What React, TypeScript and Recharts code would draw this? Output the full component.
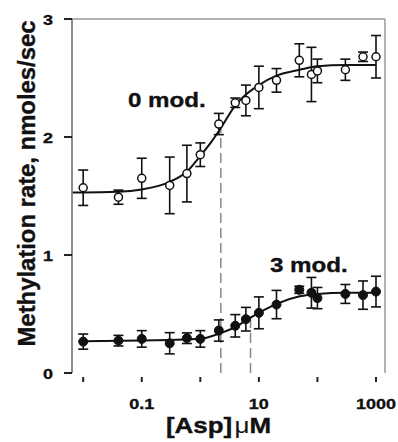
import React from "react";
import { ComposedChart, Line, Scatter, XAxis, YAxis, ErrorBar, ReferenceLine } from "recharts";

// Asp concentration (µM)
const conc = [0.01, 0.04, 0.1, 0.3, 0.59, 1.0, 2.07, 3.95, 6, 10, 20, 49, 79, 100, 300, 600, 1000];
// 0 mod. (open circles)
const rate0 = [1.57, 1.49, 1.65, 1.59, 1.69, 1.85, 2.11, 2.29, 2.31, 2.42, 2.48, 2.65, 2.53, 2.56, 2.57, 2.68, 2.68];
const err0 = [0.15, 0.06, 0.17, 0.24, 0.24, 0.1, 0.09, 0.04, 0.13, 0.18, 0.1, 0.14, 0.23, 0.1, 0.09, 0.04, 0.18];
// 3 mod. (filled circles)
const rate3 = [0.266, 0.274, 0.289, 0.252, 0.295, 0.289, 0.36, 0.4, 0.456, 0.51, 0.58, 0.705, 0.68, 0.635, 0.67, 0.66, 0.69];
const err3 = [0.064, 0.045, 0.07, 0.09, 0.045, 0.07, 0.09, 0.095, 0.1, 0.135, 0.12, 0.03, 0.13, 0.09, 0.08, 0.12, 0.13];

// fitted curves
const fitX0 = [0.0066, 0.01, 0.04, 0.1, 0.3, 0.6, 1, 1.5, 2.2, 4, 6, 10, 20, 50, 100, 300, 1000];
const fitY0 = [1.53, 1.53, 1.535, 1.555, 1.62, 1.71, 1.84, 1.95, 2.07, 2.27, 2.36, 2.44, 2.52, 2.57, 2.6, 2.61, 2.61];
const fitX3 = [0.01, 0.1, 0.3, 1, 2, 4, 7.2, 10, 20, 50, 100, 300, 1000];
const fitY3 = [0.27, 0.275, 0.28, 0.29, 0.33, 0.39, 0.47, 0.51, 0.586, 0.65, 0.67, 0.68, 0.68];

// half-saturation markers
const ec50X = [2.24, 7.2];
const ec50Y = [2.07, 0.47];

const xTicks = [0.01, 0.1, 1, 10, 100, 1000];
const xTickLabels = ["", "0.1", "", "10", "", "1000"];
const yTicks = [0, 1, 2, 3];

const X_MIN = 0.00644;
const X_MAX = 1425;

const pts0 = conc.map((x, i) => ({ x, y: rate0[i], err: err0[i] }));
const pts3 = conc.map((x, i) => ({ x, y: rate3[i], err: err3[i] }));
const fit0 = fitX0.map((x, i) => ({ x, y: fitY0[i] }));
const fit3 = fitX3.map((x, i) => ({ x, y: fitY3[i] }));
const dash0 = [{ x: ec50X[0], y: 0 }, { x: ec50X[0], y: ec50Y[0] }];
const dash3 = [{ x: ec50X[1], y: 0 }, { x: ec50X[1], y: ec50Y[1] }];

const FONT = "'Liberation Sans', Arial, Helvetica, sans-serif";
const heavy = { stroke: "#111", strokeWidth: 0.35 };

const XTick = (props: any) => {
  const { x, y, payload } = props;
  const idx = xTicks.indexOf(payload.value);
  const label = idx >= 0 ? xTickLabels[idx] : "";
  return (
    <g>
      <line x1={x} x2={x} y1={y + 4} y2={y + 9} stroke="#222" strokeWidth={2} />
      {label && (
        <text
          transform={`translate(${x},${y + 36}) scale(1.2,1)`}
          textAnchor="middle"
          fontSize={15}
          fontWeight="bold"
          fontFamily={FONT}
          fill="#111"
          {...heavy}
        >
          {label}
        </text>
      )}
    </g>
  );
};

const YTick = (props: any) => {
  const { x, y, payload } = props;
  return (
    <text
      transform={`translate(${x},${y + 5.5}) scale(1.2,1)`}
      textAnchor="end"
      fontSize={15}
      fontWeight="bold"
      fontFamily={FONT}
      fill="#111"
      {...heavy}
    >
      {payload.value}
    </text>
  );
};

const OpenDot = (props: any) => {
  const { cx, cy } = props;
  return <circle cx={cx} cy={cy} r={4} fill="#fff" stroke="#111" strokeWidth={1.5} />;
};
const FilledDot = (props: any) => {
  const { cx, cy } = props;
  return <circle cx={cx} cy={cy} r={4.5} fill="#111" stroke="#111" strokeWidth={1} />;
};

export default function App() {
  return (
    <div style={{ position: "absolute", left: 0, top: 0, width: 398, height: 442, background: "#fff" }}>
      <ComposedChart width={398} height={442} margin={{ top: 19, right: 13, left: 0, bottom: 0 }}>
        <XAxis
          type="number"
          dataKey="x"
          scale="log"
          domain={[X_MIN, X_MAX]}
          allowDataOverflow
          ticks={xTicks}
          tick={<XTick />}
          tickLine={false}
          axisLine={false}
          tickSize={0}
          tickMargin={0}
          height={69}
          interval={0}
        />
        <YAxis
          type="number"
          dataKey="y"
          domain={[0, 3]}
          ticks={yTicks}
          width={72}
          tick={<YTick />}
          tickSize={8}
          tickMargin={11}
          axisLine={{ stroke: "#666", strokeWidth: 1.5 }}
          tickLine={{ stroke: "#222", strokeWidth: 2 }}
          interval={0}
        />
        <ReferenceLine y={3} stroke="#999" strokeWidth={1.5} />
        <ReferenceLine x={X_MAX} stroke="#999" strokeWidth={1.5} />
        <Line data={dash0} dataKey="y" type="linear" stroke="#888" strokeWidth={1.5} strokeDasharray="10 5" dot={false} isAnimationActive={false} />
        <Line data={dash3} dataKey="y" type="linear" stroke="#888" strokeWidth={1.5} strokeDasharray="10 5" dot={false} isAnimationActive={false} />
        <Line data={fit0} dataKey="y" type="monotone" stroke="#111" strokeWidth={2} dot={false} isAnimationActive={false} />
        <Line data={fit3} dataKey="y" type="monotone" stroke="#111" strokeWidth={2} dot={false} isAnimationActive={false} />
        <Scatter data={pts0} dataKey="y" shape={<OpenDot />} isAnimationActive={false}>
          <ErrorBar dataKey="err" direction="y" width={5} stroke="#111" strokeWidth={1.6} />
        </Scatter>
        <Scatter data={pts3} dataKey="y" shape={<FilledDot />} isAnimationActive={false}>
          <ErrorBar dataKey="err" direction="y" width={5} stroke="#111" strokeWidth={1.6} />
        </Scatter>
      </ComposedChart>
      <svg
        width={398}
        height={442}
        style={{ position: "absolute", left: 0, top: 0, pointerEvents: "none" }}
      >
        <text transform="translate(128,106.5) scale(1.15,1)" fontSize={21} fontWeight="bold" fontFamily={FONT} fill="#111" {...heavy}>
          0 mod.
        </text>
        <text transform="translate(270,271.5) scale(1.15,1)" fontSize={21} fontWeight="bold" fontFamily={FONT} fill="#111" {...heavy}>
          3 mod.
        </text>
        <text transform="translate(218.5,432.5) scale(1.18,1)" textAnchor="middle" fontSize={22} fontWeight="bold" fontFamily={FONT} fill="#111" {...heavy}>
          <tspan>[Asp]</tspan>
          <tspan fontWeight="normal" strokeWidth={0} dx={2}>μ</tspan>
          <tspan>M</tspan>
        </text>
        <text
          transform="translate(35,183.5) rotate(-90)"
          textAnchor="middle"
          fontSize={23}
          fontWeight="bold"
          fontFamily={FONT}
          fill="#111"
          textLength={326}
          lengthAdjust="spacingAndGlyphs"
          {...heavy}
        >
          Methylation rate, nmoles/sec
        </text>
      </svg>
    </div>
  );
}
